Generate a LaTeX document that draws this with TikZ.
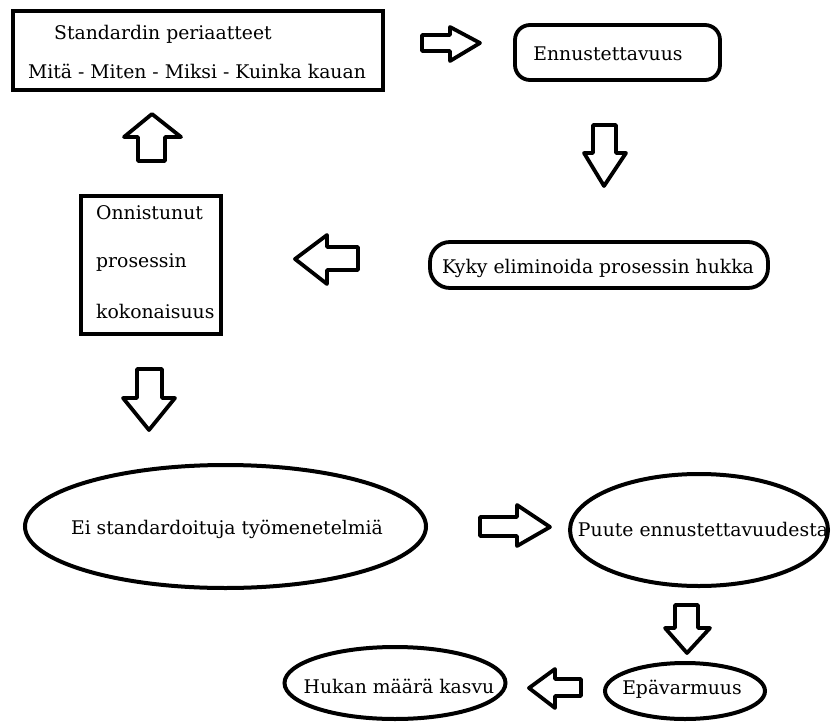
\documentclass[tikz,border=0pt]{standalone}
\usepackage{fontspec}
\setmainfont{DejaVu Serif}
\usetikzlibrary{shapes.geometric}
\begin{document}
\begin{tikzpicture}[x=1pt,y=-1pt,
  txt/.style={inner sep=0pt, font=\fontsize{18.8}{22}\selectfont},
  sqbox/.style={draw, line width=4.5pt, rectangle, inner sep=0pt},
  rbox/.style={draw, line width=3.8pt, rectangle, inner sep=0pt},
  oval/.style={draw, line width=4pt, ellipse, inner sep=0pt},
  barrow/.style={draw, line width=3.8pt, line join=round, fill=white}]
\useasboundingbox (0,0) rectangle (832,722);
\fill[white] (0,0) rectangle (832,722);

% boxes
\node[sqbox, minimum width=370pt, minimum height=79pt] (std) at (198,50.5) {};
\node[txt] (stdA) at (163,34) {Standardin periaatteet};
\node[txt] (stdB) at (197,71) {Mitä - Miten - Miksi - Kuinka kauan};

\node[rbox, rounded corners=15pt, minimum width=205pt, minimum height=55pt] (enn) at (617.5,52.5) {};
\node[txt] (ennT) at (608,54) {Ennustettavuus};

\node[rbox, rounded corners=20pt, minimum width=338pt, minimum height=46pt] (kyky) at (599,265) {};
\node[txt] (kykyT) at (598,268) {Kyky eliminoida prosessin hukka};

\node[sqbox, minimum width=140pt, minimum height=138pt] (onn) at (151,265) {};
\node[txt, anchor=west] (onnA) at (96,213) {Onnistunut};
\node[txt, anchor=west] (onnB) at (96,263) {prosessin};
\node[txt, anchor=west] (onnC) at (96,311) {kokonaisuus};

\node[oval, minimum width=401pt, minimum height=123pt] (ei) at (225.5,526.5) {};
\node[txt] (eiT) at (227,529) {Ei standardoituja työmenetelmiä};

\node[oval, minimum width=258pt, minimum height=112pt] (puute) at (699,530) {};
\node[txt] (puuteT) at (703,529) {Puute ennustettavuudesta};

\node[oval, minimum width=160pt, minimum height=56pt] (epa) at (685,691) {};
\node[txt] (epaT) at (682,689) {Epävarmuus};

\node[oval, minimum width=221pt, minimum height=72pt] (hukka) at (395,683) {};
\node[txt] (hukkaT) at (399,686) {Hukan määrä kasvu};

% block arrows
\draw[barrow] (422,35) -- (450,35) -- (450,27) -- (480,43) -- (450,61) -- (450,51) -- (422,51) -- cycle;
\draw[barrow] (593,125) -- (616,125) -- (616,153) -- (626,153) -- (604,186) -- (584,153) -- (593,153) -- cycle;
\draw[barrow] (358,247) -- (327,247) -- (327,235) -- (295,259) -- (327,284) -- (327,270) -- (358,270) -- cycle;
\draw[barrow] (138,161) -- (138,137) -- (124,137) -- (152,114) -- (181,137) -- (165,137) -- (165,161) -- cycle;
\draw[barrow] (137,369) -- (162,369) -- (162,398) -- (175,398) -- (149,430) -- (123,398) -- (137,398) -- cycle;
\draw[barrow] (480,517) -- (517,517) -- (517,505) -- (550,527) -- (517,546) -- (517,536) -- (480,536) -- cycle;
\draw[barrow] (675,605) -- (698,605) -- (698,628) -- (710,628) -- (687,653) -- (665,628) -- (675,628) -- cycle;
\draw[barrow] (581,679) -- (555,679) -- (555,669) -- (529,688) -- (555,708) -- (555,696) -- (581,696) -- cycle;
\end{tikzpicture}
\end{document}
